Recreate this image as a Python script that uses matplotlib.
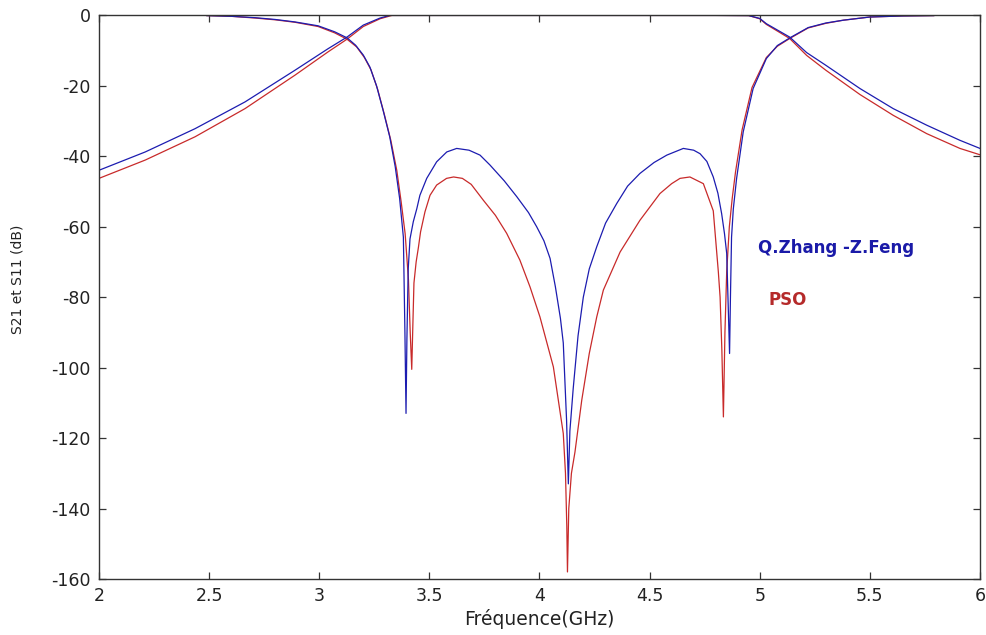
import matplotlib
matplotlib.use("Agg")
import matplotlib.pyplot as plt

plt.rcParams["axes.unicode_minus"] = False

# ---- Q.Zhang - Z.Feng : transmission S21 ----
f_s21_qz = [2.0, 2.21, 2.436, 2.663, 2.89, 3.04, 3.126, 3.20, 3.276, 3.32,
            3.6, 4.0, 4.4, 4.8, 4.95, 5.0, 5.03, 5.136, 5.213, 5.30,
            5.455, 5.606, 5.758, 5.909, 6.0]
s21_qz = [-44.0, -38.8, -32.2, -24.6, -15.6, -9.5, -6.2, -2.8, -0.8, -0.05,
          -0.05, -0.05, -0.05, -0.05, -0.1, -0.9, -2.4, -6.2, -10.6, -14.2,
          -20.8, -26.5, -31.2, -35.5, -37.8]

# ---- PSO : transmission S21 ----
f_s21_pso = [2.0, 2.21, 2.436, 2.663, 2.89, 3.04, 3.126, 3.20, 3.276, 3.33,
             3.6, 4.0, 4.4, 4.8, 4.95, 5.0, 5.03, 5.136, 5.213, 5.30,
             5.455, 5.606, 5.758, 5.909, 6.0]
s21_pso = [-46.3, -41.1, -34.5, -26.5, -17.0, -10.4, -6.8, -3.2, -1.0, -0.05,
           -0.05, -0.05, -0.05, -0.05, -0.1, -1.0, -2.6, -6.6, -11.4, -15.6,
           -22.5, -28.4, -33.6, -37.8, -39.6]

# ---- Q.Zhang - Z.Feng : reflection S11 ----
f_s11_qz = [2.49, 2.6, 2.71, 2.8, 2.89, 2.995, 3.07, 3.126, 3.165, 3.20,
            3.23, 3.26, 3.29, 3.32, 3.345, 3.365, 3.382, 3.389, 3.394, 3.398,
            3.404, 3.412, 3.427, 3.443, 3.457, 3.488, 3.533, 3.579, 3.624, 3.68,
            3.73, 3.775, 3.84, 3.897, 3.95, 3.987, 4.02, 4.048, 4.072, 4.095,
            4.108, 4.123, 4.131, 4.138, 4.153, 4.175, 4.199, 4.226, 4.26, 4.30,
            4.351, 4.40, 4.456, 4.52, 4.578, 4.653, 4.70, 4.729, 4.76, 4.789,
            4.81, 4.827, 4.84, 4.85, 4.858, 4.863, 4.867, 4.872, 4.88, 4.895,
            4.925, 4.97, 5.03, 5.08, 5.14, 5.22, 5.30, 5.38, 5.5, 5.65, 5.79]
s11_qz = [-0.1, -0.3, -0.7, -1.2, -1.9, -3.0, -4.7, -6.4, -8.5, -11.3,
          -14.7, -20.0, -27.0, -34.5, -43.0, -52.0, -63.0, -90.0, -113.0, -92.0,
          -72.0, -63.5, -58.6, -54.9, -51.1, -46.3, -41.6, -38.8, -37.8, -38.3,
          -39.7, -42.5, -47.0, -51.5, -56.0, -60.0, -64.0, -69.0, -77.0, -86.0,
          -93.0, -115.0, -133.0, -118.0, -106.0, -91.0, -80.0, -72.0, -65.7, -59.0,
          -53.4, -48.5, -44.9, -41.8, -39.7, -37.8, -38.3, -39.3, -41.5, -45.9,
          -50.5, -56.3, -62.0, -67.6, -85.0, -96.0, -80.0, -63.0, -55.0, -46.3,
          -33.1, -20.8, -12.3, -8.6, -6.3, -3.5, -2.2, -1.4, -0.5, -0.2, -0.1]

# ---- PSO : reflection S11 ----
f_s11_pso = [2.49, 2.6, 2.71, 2.8, 2.89, 2.995, 3.07, 3.126, 3.17, 3.205,
             3.235, 3.265, 3.295, 3.325, 3.352, 3.372, 3.39, 3.405, 3.413, 3.42,
             3.425, 3.43, 3.44, 3.45, 3.46, 3.48, 3.503, 3.533, 3.578, 3.61,
             3.65, 3.69, 3.745, 3.80, 3.851, 3.911, 3.957, 4.002, 4.063, 4.108,
             4.118, 4.124, 4.127, 4.133, 4.145, 4.161, 4.192, 4.226, 4.26, 4.29,
             4.366, 4.456, 4.547, 4.60, 4.638, 4.683, 4.744, 4.789, 4.812, 4.82,
             4.828, 4.835, 4.842, 4.85, 4.862, 4.875, 4.89, 4.92, 4.965, 5.03,
             5.08, 5.136, 5.22, 5.30, 5.38, 5.5, 5.65, 5.79]
s11_pso = [-0.1, -0.3, -0.8, -1.3, -2.0, -3.2, -5.0, -6.8, -9.0, -12.0,
           -15.5, -21.0, -28.0, -35.5, -44.0, -53.0, -62.0, -75.0, -90.0, -100.5,
           -88.0, -76.0, -70.0, -66.0, -61.5, -55.8, -51.1, -48.2, -46.3, -45.9,
           -46.3, -48.0, -52.5, -56.8, -61.9, -69.5, -77.1, -85.6, -99.8, -118.7,
           -130.0, -145.0, -158.0, -140.0, -130.0, -124.0, -109.2, -96.0, -85.6, -78.0,
           -67.2, -58.2, -50.6, -47.8, -46.3, -45.9, -47.8, -55.5, -72.8, -80.0,
           -95.0, -114.0, -90.0, -72.8, -60.0, -52.0, -44.5, -32.5, -20.5, -12.0,
           -8.8, -6.6, -3.6, -2.3, -1.4, -0.5, -0.2, -0.1]

x_ticks = [2, 2.5, 3, 3.5, 4, 4.5, 5, 5.5, 6]
x_tick_labels = ["2", "2.5", "3", "3.5", "4", "4.5", "5", "5.5", "6"]
y_ticks = [0, -20, -40, -60, -80, -100, -120, -140, -160]

blue = "#1c1cb0"
red = "#c82a2a"

fig = plt.figure(figsize=(9.86, 6.35), dpi=100)
ax = fig.add_axes([0.1004, 0.0882, 0.8935, 0.8878])

ax.plot(f_s21_pso, s21_pso, color=red, lw=0.9)
ax.plot(f_s11_pso, s11_pso, color=red, lw=0.9)
ax.plot(f_s21_qz, s21_qz, color=blue, lw=0.9)
ax.plot(f_s11_qz, s11_qz, color=blue, lw=0.9)

ax.set_xlim(2, 6)
ax.set_ylim(-160, 0)
ax.set_xticks(x_ticks)
ax.set_xticklabels(x_tick_labels)
ax.set_yticks(y_ticks)
ax.tick_params(direction="in", length=5, width=0.9, colors="#333333",
               labelcolor="#222222", labelsize=12.5, top=True, right=True, pad=6)
for sp in ax.spines.values():
    sp.set_color("#333333")
    sp.set_linewidth(1.0)

ax.set_xlabel("Fréquence(GHz)", fontsize=13.5, color="#222222", labelpad=3)
ax.set_ylabel("S21 et S11 (dB)", fontsize=10, color="#222222")
ax.yaxis.set_label_coords(-0.084, 0.532)

ax.text(4.99, -66.1, "Q.Zhang -Z.Feng", color="#1a1aa8", fontsize=12,
        fontweight="bold", va="center", ha="left")
ax.text(5.04, -80.9, "PSO", color="#b52a2a", fontsize=12,
        fontweight="bold", va="center", ha="left")

fig.savefig("out.png", dpi=100)
